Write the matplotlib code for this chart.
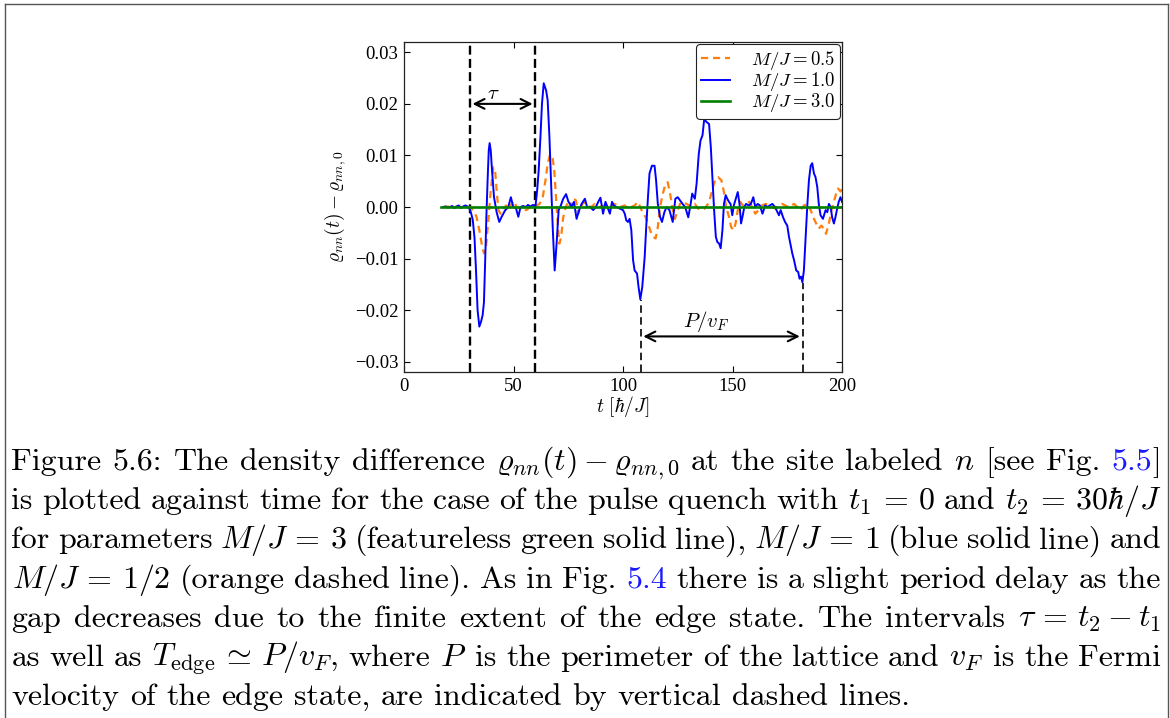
import matplotlib
matplotlib.use('Agg')
import matplotlib.pyplot as plt
from matplotlib.lines import Line2D
from matplotlib.ticker import FixedLocator, FuncFormatter

plt.rcParams['mathtext.fontset'] = 'cm'
plt.rcParams['font.family'] = ['Liberation Serif', 'DejaVu Serif']

# ---------------- data ----------------
t_blue = [18, 19, 20, 21, 22, 23, 24, 25, 26, 27, 28, 29, 30, 30.7, 31.4, 32.2, 32.9, 33.6,
          34.4, 35.2, 35.9, 36.5, 37.1, 37.6, 38.2, 38.7, 39.1, 39.6, 40.2, 41.1, 42.3, 43.5,
          44.6, 46.1, 47.6, 48.8, 49.9, 51.1, 52.2, 53.2, 54.4, 55.6, 56.6, 57.7, 58.9, 60.0,
          60.8, 61.5, 62.3, 63.0, 63.8, 64.9, 65.6, 66.4, 67.1, 67.9, 68.8, 69.7, 70.6, 71.7,
          72.7, 74.0, 75.1, 75.8, 76.5, 77.6, 78.8, 80.0, 81.1, 82.6, 83.6, 84.9, 86.4, 87.6,
          88.7, 89.7, 90.9, 92.0, 92.9, 94.0, 95.0, 95.8, 97.0, 98.5, 100.0, 100.8, 101.5,
          102.3, 103.0, 103.8, 104.6, 105.3, 106.4, 107.1, 107.9, 108.8, 109.9, 110.6, 111.4,
          112.1, 113.2, 114.4, 115.1, 115.9, 116.9, 117.8, 118.9, 119.9, 121.2, 122.7, 123.9,
          125.0, 126.0, 127.2, 128.4, 129.8, 130.9, 131.6, 132.8, 133.6, 134.6, 135.4, 136.3,
          137.1, 138.1, 139.3, 140.1, 140.9, 141.6, 142.4, 143.1, 143.9, 144.6, 145.4, 146.1,
          146.9, 147.6, 148.4, 149.1, 149.9, 150.6, 151.7, 152.4, 153.2, 153.9, 154.7, 155.4,
          156.2, 157.4, 158.4, 159.5, 160.4, 161.5, 162.5, 163.7, 164.9, 166.0, 167.0, 168.2,
          169.4, 170.5, 171.2, 172.0, 173.1, 174.0, 175.0, 175.8, 177.3, 178.1, 179.1, 180.0,
          180.6, 181.3, 181.9, 182.6, 183.4, 184.2, 184.9, 185.7, 186.4, 187.2, 187.9, 188.7,
          189.4, 190.2, 191.3, 192.5, 193.3, 194.0, 194.8, 195.5, 196.3, 197.0, 197.8, 198.5,
          199.3, 200.0]
v_blue = [0.0, 0.0001, -0.0001, 0.0, 0.0002, -0.0002, 0.0001, 0.0003, -0.0002, 0.0001, 0.0003,
          0.0001, -0.0004, -0.0013, -0.0025, -0.006, -0.0125, -0.020, -0.0232, -0.0222, -0.021,
          -0.0185, -0.010, -0.002, 0.0055, 0.011, 0.0124, 0.011, 0.0071, 0.0019, -0.0010,
          -0.0029, -0.0019, -0.0007, 0.0, 0.0019, 0.0, -0.0002, -0.0019, 0.0, 0.0002, 0.0,
          0.0004, 0.0001, 0.0004, 0.0, 0.0032, 0.0071, 0.0136, 0.0200, 0.0240, 0.0226, 0.0207,
          0.0136, 0.0052, -0.0039, -0.0123, -0.0070, -0.0006, 0.0004, 0.0016, 0.0025, 0.001,
          0.0006, 0.0, 0.001, -0.0023, -0.0006, 0.0006, 0.0016, 0.0, 0.0, -0.0006, 0.0, 0.001,
          0.0018, -0.0013, 0.001, 0.0, -0.0013, 0.001, 0.0003, 0.0, -0.0003, -0.0006, -0.0013,
          -0.0026, -0.0029, -0.0023, -0.0045, -0.0103, -0.0123, -0.0129, -0.0155, -0.0179,
          -0.0155, -0.0097, -0.0039, 0.0019, 0.0065, 0.0080, 0.0080, 0.0052, 0.0006, -0.0019,
          -0.0029, -0.0010, 0.0, -0.0006, -0.0029, 0.0016, 0.0019, 0.0013, 0.0006, 0.0, -0.0020,
          0.0006, 0.0026, 0.0016, 0.0045, 0.0103, 0.0129, 0.0139, 0.0171, 0.0165, 0.0161,
          0.0116, 0.0052, -0.0006, -0.0058, -0.0068, -0.0071, -0.0080, -0.0045, 0.0006, 0.0023,
          0.0016, 0.001, 0.0006, -0.0016, 0.0003, 0.0019, 0.0029, 0.0006, -0.0032, -0.0016,
          0.0, 0.0006, 0.0003, 0.0006, 0.0019, 0.0, 0.0006, 0.0003, -0.0013, 0.0003, 0.0,
          0.0003, 0.0006, 0.0, -0.001, -0.0016, -0.0006, -0.002, -0.0029, -0.0036, -0.0058,
          -0.0090, -0.0103, -0.0123, -0.0126, -0.0139, -0.0135, -0.0146, -0.0123, -0.0058,
          0.0006, 0.0052, 0.0080, 0.0085, 0.0065, 0.0058, 0.0039, 0.0006, -0.0016, -0.0023,
          -0.0006, -0.001, 0.0006, 0.0, -0.002, -0.0032, -0.002, -0.0003, 0.001, 0.0019, 0.001]

t_orange = [18, 20, 22, 24, 26, 28, 30, 31.6, 33.1, 34.4, 35.4, 36.5, 37.4, 38.5, 39.6, 40.8,
            41.6, 42.3, 43.1, 44.1, 45.4, 46.6, 47.6, 49.1, 50.2, 51.4, 52.9, 54.4, 55.9, 57.4,
            58.9, 60.4, 61.9, 63.4, 64.6, 65.6, 66.7, 67.9, 68.6, 69.4, 70.2, 70.9, 71.7, 72.7,
            73.9, 75.0, 75.8, 77.3, 78.5, 79.5, 80.7, 82.1, 83.6, 85.6, 87.1, 89.4, 91.6, 94.0,
            96.2, 98.5, 100.8, 102.3, 103.8, 105.3, 106.8, 107.9, 109.1, 110.3, 111.4, 112.4,
            113.7, 114.9, 115.9, 116.9, 118.2, 119.4, 120.4, 121.5, 122.7, 123.7, 125.0, 126.0,
            127.2, 129.0, 131.3, 132.8, 134.3, 135.8, 137.3, 138.8, 139.9, 141.1, 142.3, 143.4,
            144.9, 146.1, 147.1, 148.4, 149.4, 150.5, 151.4, 152.4, 153.5, 154.7, 156.2, 157.7,
            158.9, 160.4, 161.9, 163.4, 165.2, 166.7, 168.2, 169.7, 171.2, 172.8, 174.0, 175.8,
            178.1, 179.6, 181.1, 182.6, 184.2, 185.7, 187.2, 188.2, 189.4, 190.6, 191.7, 192.7,
            194.0, 195.2, 196.3, 197.3, 198.2, 199.3, 200.0]
v_orange = [0.0, 0.0001, -0.0001, 0.0001, 0.0, -0.0001, 0.0, -0.0006, -0.0019, -0.0045,
            -0.0070, -0.0090, -0.0080, -0.0026, 0.0032, 0.0077, 0.0071, 0.0032, -0.0006,
            -0.0013, -0.0003, 0.0003, -0.0006, 0.0006, 0.0012, 0.0, -0.0003, -0.0005, -0.0006,
            -0.0001, 0.0003, 0.0003, 0.0006, 0.002, 0.0052, 0.0084, 0.0102, 0.0094, 0.0071,
            0.002, -0.0032, -0.0071, -0.006, -0.002, 0.0, 0.001, 0.0, 0.0016, 0.0013, -0.0013,
            0.0, 0.001, 0.0003, 0.0, 0.0006, 0.0, 0.0003, 0.0, 0.0006, 0.0, 0.0003, -0.0003,
            0.0, 0.0003, 0.001, 0.0, -0.0013, -0.0019, -0.0032, -0.0045, -0.0058, -0.0061,
            -0.0039, 0.0, 0.0026, 0.0045, 0.0048, 0.0026, -0.0006, -0.0023, -0.0006, 0.0006,
            0.001, 0.0006, 0.0, 0.0006, -0.0003, -0.0006, -0.0003, 0.0006, 0.0019, 0.0039,
            0.0055, 0.0058, 0.0052, 0.0029, 0.0, -0.0019, -0.0039, -0.0045, -0.0032, -0.0006,
            0.001, 0.0003, 0.0006, 0.001, 0.0, -0.0013, -0.0006, 0.0003, 0.0006, 0.0003, 0.0,
            -0.0003, 0.0003, 0.0006, 0.0003, 0.0, 0.0006, 0.0, -0.0006, 0.0003, 0.0006, -0.0006,
            -0.0023, -0.0032, -0.0042, -0.0036, -0.0042, -0.0052, -0.0032, -0.0006, 0.001,
            0.0026, 0.0036, 0.003, 0.0035]

t_green = [17, 50, 100, 150, 200]
v_green = [0.0, 0.0, 0.0, 0.0, 0.0]

series_labels = [r'$M/J=0.5$', r'$M/J=1.0$', r'$M/J=3.0$']
x_ticks = [0, 50, 100, 150, 200]
y_ticks = [-0.03, -0.02, -0.01, 0.0, 0.01, 0.02, 0.03]

# annotation values
tau_lines = [30, 60]
tau_arrow_y = 0.02
tau_label_pos = (41, 0.0219)
period_lines = [108, 182]
period_tops = [-0.0181, -0.0147]
period_arrow_y = -0.0251
period_label_pos = (138, -0.0222)

# ---------------- figure ----------------
W, H = 1170, 718
fig = plt.figure(figsize=(W / 100, H / 100), dpi=100)
fig.patch.set_facecolor('white')

ax = fig.add_axes([404 / W, 1 - 372 / H, (842 - 404) / W, (372 - 42) / H])
ax.plot(t_orange, v_orange, color='#ff7f0e', lw=1.6, dashes=(3.2, 2.2), label=series_labels[0])
ax.plot(t_blue, v_blue, color='#0000ff', lw=1.4, label=series_labels[1])
ax.plot(t_green, v_green, color='#008000', lw=1.9, label=series_labels[2])

ax.set_xlim(0, 200)
ax.set_ylim(-0.032, 0.032)

for tv in tau_lines:
    ax.axvline(tv, color='k', lw=1.7, dashes=(3.8, 1.8), zorder=1)
for tv, top in zip(period_lines, period_tops):
    ax.plot([tv, tv], [-0.032, top], color='k', lw=1.2, dashes=(4.5, 2.6), zorder=1)

arrow_kw = dict(arrowstyle='<->,head_length=0.7,head_width=0.35', lw=1.5, color='k',
                shrinkA=2, shrinkB=2)
ax.annotate('', xy=(tau_lines[0], tau_arrow_y), xytext=(tau_lines[1], tau_arrow_y),
            arrowprops=arrow_kw)
ax.annotate('', xy=(period_lines[0], period_arrow_y), xytext=(period_lines[1], period_arrow_y),
            arrowprops=arrow_kw)
ax.text(*tau_label_pos, r'$\tau$', fontsize=15, ha='center', va='center')
ax.text(*period_label_pos, r'$P/v_F$', fontsize=15, ha='center', va='center')

ax.xaxis.set_major_locator(FixedLocator(x_ticks))
ax.yaxis.set_major_locator(FixedLocator(y_ticks))
ax.yaxis.set_major_formatter(FuncFormatter(lambda v, p: f'{v:.2f}'.replace('-', '\u2212')))
ax.xaxis.set_major_formatter(FuncFormatter(lambda v, p: f'{v:.0f}'))
ax.tick_params(direction='in', top=True, right=True, length=4.5, width=0.8,
               labelsize=13.5, pad=4)
for sp in ax.spines.values():
    sp.set_linewidth(0.9)
    sp.set_color('#222222')

ax.set_xlabel(r'$t\ [\hbar/J]$', fontsize=14)
ax.set_ylabel(r'$\varrho_{nn}(t)-\varrho_{nn,0}$', fontsize=14)
ax.xaxis.set_label_coords(0.5, -0.068)
ax.yaxis.set_label_coords(-0.128, 0.5)

leg = ax.legend(loc='upper right', fontsize=13.5, handlelength=1.55, handletextpad=1.1,
                labelspacing=-0.1, borderpad=0.25, borderaxespad=0.12, fancybox=True,
                framealpha=1, edgecolor='#222222')
leg.get_frame().set_linewidth(0.8)

# ---------------- frame around figure+caption ----------------
frame_kw = dict(color='#555555', lw=1.0, transform=fig.transFigure)
fig.add_artist(Line2D([4.5 / W, 4.5 / W], [0, 1 - 3.5 / H], **frame_kw))
fig.add_artist(Line2D([4.5 / W, 1167.5 / W], [1 - 3.5 / H, 1 - 3.5 / H], **frame_kw))
fig.add_artist(Line2D([1167.5 / W, 1167.5 / W], [0, 1 - 3.5 / H], **frame_kw))

# ---------------- caption (justified) ----------------
link = '#1a1aff'
caption_lines = [
    ['Figure', '5.6:', 'The', 'density', 'difference', r'$\varrho_{nn}(t)-\varrho_{nn,0}$',
     'at', 'the', 'site', 'labeled', r'$n$', '[see', 'Fig.', [('5.5', link), (']', 'black')]],
    ['is', 'plotted', 'against', 'time', 'for', 'the', 'case', 'of', 'the', 'pulse', 'quench',
     'with', r'$t_1\,=\,0$', 'and', r'$t_2\,=\,30\hbar/J$'],
    ['for', 'parameters', r'$M/J\,=\,3$', '(featureless', 'green', 'solid', 'line),',
     r'$M/J\,=\,1$', '(blue', 'solid', 'line)', 'and'],
    [r'$M/J\,=\,1/2$', '(orange', 'dashed', 'line).', 'As', 'in', 'Fig.', [('5.4', link)],
     'there', 'is', 'a', 'slight', 'period', 'delay', 'as', 'the'],
    ['gap', 'decreases', 'due', 'to', 'the', 'finite', 'extent', 'of', 'the', 'edge', 'state.',
     'The', 'intervals', r'$\tau\,=\,t_2-t_1$'],
    ['as', 'well', 'as', r'$T_{\mathrm{edge}}\,\simeq\,P/v_F$,', 'where', r'$P$', 'is', 'the',
     'perimeter', 'of', 'the', 'lattice', 'and', r'$v_F$', 'is', 'the', 'Fermi'],
    ['velocity', 'of', 'the', 'edge', 'state,', 'are', 'indicated', 'by', 'vertical', 'dashed',
     'lines.'],
]

cap_left, cap_right = 11.5, 1161.0
cap_base0, cap_step = 470.0, 39.2
cap_size = 23
renderer = fig.canvas.get_renderer()
natural_space = 0.333 * cap_size * 100 / 72

for i, words in enumerate(caption_lines):
    ybase = cap_base0 + i * cap_step
    placed = []
    for word in words:
        segs = word if isinstance(word, list) else [(word, 'black')]
        parts = []
        wsum = 0.0
        for s, c in segs:
            t = fig.text(0, 1 - ybase / H, s, color=c, va='baseline', ha='left',
                         fontsize=cap_size, family=['cmr10', 'DejaVu Serif'])
            w = t.get_window_extent(renderer).width
            parts.append((t, w))
            wsum += w
        placed.append((parts, wsum))
    total = sum(w for _, w in placed)
    last = (i == len(caption_lines) - 1)
    gap = natural_space if last else (cap_right - cap_left - total) / (len(placed) - 1)
    x = cap_left
    for parts, wsum in placed:
        xx = x
        for t, w in parts:
            t.set_x(xx / W)
            xx += w
        x += wsum + gap

fig.savefig('out.png', dpi=100, facecolor='white')
